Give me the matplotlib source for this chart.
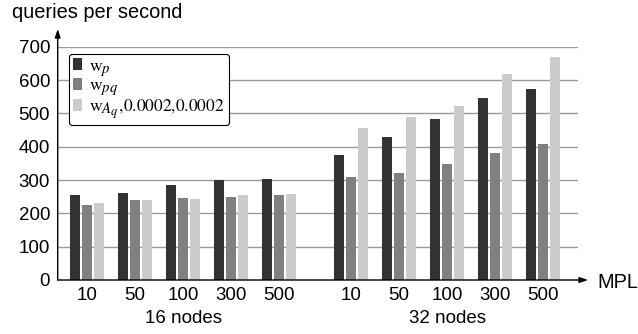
import matplotlib
matplotlib.use("Agg")
import matplotlib.pyplot as plt
import matplotlib._mathtext as mathtext_internal
from matplotlib.patches import Patch
from matplotlib.transforms import blended_transform_factory

plt.rcParams['font.family'] = ['Liberation Sans', 'DejaVu Sans']
plt.rcParams['mathtext.fontset'] = 'stix'
# larger subscripts in the legend labels
mathtext_internal.SHRINK_FACTOR = 0.85

# Throughput data (queries per second) by multiprogramming level
mpl_levels = ['10', '50', '100', '300', '500']
clusters = ['16 nodes', '32 nodes']
series_names = [r'w$_{p}$', r'w$_{pq}$', r'w$_{A_q}$,0.0002,0.0002']
wp_16 = [256, 262, 286, 301, 304]
wpq_16 = [226, 240, 247, 250, 256]
waq_16 = [232, 241, 244, 256, 259]
wp_32 = [375, 430, 484, 546, 573]
wpq_32 = [310, 322, 348, 381, 408]
waq_32 = [456, 489, 522, 618, 669]
y_ticks = [0, 100, 200, 300, 400, 500, 600, 700]

colors = ['#333333', '#808080', '#cccccc']

W, H = 638, 334
fig = plt.figure(figsize=(W / 100, H / 100), dpi=100)
ax = fig.add_axes([57.7 / W, (H - 280) / H, 520 / W, 233.3 / H])

group_gap = 1.5
centers_16 = [i for i in range(len(mpl_levels))]
centers_32 = [len(mpl_levels) - 1 + group_gap + i for i in range(len(mpl_levels))]
offset = 0.25
width = 0.208

series_16 = [wp_16, wpq_16, waq_16]
series_32 = [wp_32, wpq_32, waq_32]
for k in range(3):
    ax.bar([c + (k - 1) * offset for c in centers_16], series_16[k], width=width,
           color=colors[k], zorder=3)
    ax.bar([c + (k - 1) * offset for c in centers_32], series_32[k], width=width,
           color=colors[k], zorder=3)

ax.set_xlim(-0.61, 10.22)
ax.set_ylim(0, 700)

# horizontal grid lines
for y in y_ticks[1:]:
    ax.axhline(y, color='#999999', lw=1.0, zorder=1)

for s in ax.spines.values():
    s.set_visible(False)

ax.set_yticks(y_ticks)
ax.set_yticklabels([str(v) for v in y_ticks], fontsize=13.5)
ax.tick_params(axis='y', length=0, pad=5.5)
ax.set_xticks(centers_16 + centers_32)
ax.set_xticklabels(mpl_levels + mpl_levels, fontsize=13.5)
ax.tick_params(axis='x', length=0, pad=5)

# arrowed axes
ax.annotate('', xy=(0, 1.076), xytext=(0, 0), xycoords='axes fraction',
            arrowprops=dict(arrowstyle='-|>,head_length=0.5,head_width=0.17',
                            color='black', lw=1.0, shrinkA=0, shrinkB=0),
            annotation_clip=False, zorder=5)
ax.annotate('', xy=(1.02, 0), xytext=(0, 0), xycoords='axes fraction',
            arrowprops=dict(arrowstyle='-|>,head_length=0.5,head_width=0.17',
                            color='black', lw=1.0, shrinkA=0, shrinkB=0),
            annotation_clip=False, zorder=5)

fig.text(12 / W, 1 - 18.5 / H, 'queries per second', fontsize=14.4,
         ha='left', va='baseline')
fig.text(597 / W, 1 - 287.5 / H, 'MPL', fontsize=14.4, ha='left', va='baseline')

trans = blended_transform_factory(ax.transData, ax.transAxes)
for centers, name in zip([centers_16, centers_32], clusters):
    mid = sum(centers) / len(centers)
    ax.text(mid, -43 / 233.3, name, transform=trans, fontsize=13.5,
            ha='center', va='baseline')

handles = [Patch(facecolor=c, edgecolor='none') for c in colors]
leg = ax.legend(handles, series_names, loc='upper left',
                bbox_to_anchor=(11.3 / 520, (280 - 54) / 233.3), borderaxespad=0,
                prop={'family': 'STIXGeneral', 'size': 12.5},
                handlelength=0.52, handleheight=0.69, handletextpad=0.4,
                labelspacing=0.0, borderpad=0.25, fancybox=True,
                framealpha=1, edgecolor='black')
leg.get_frame().set_linewidth(0.8)
leg.set_zorder(6)

fig.savefig('out.png', dpi=100)
